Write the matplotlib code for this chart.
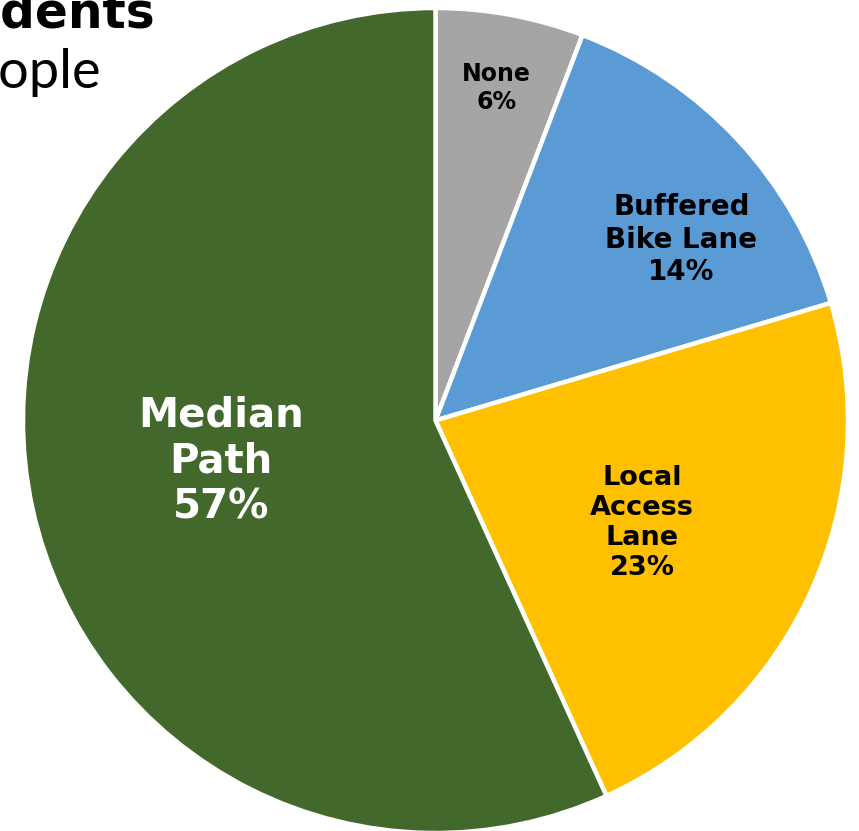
import numpy as np
import matplotlib
matplotlib.use("Agg")
import matplotlib.pyplot as plt

# preferred facility shares
labels = ["None", "Buffered\nBike Lane", "Local\nAccess\nLane", "Median\nPath"]
shares = [5.8, 14.6, 22.8, 56.8]
pct_text = ["6%", "14%", "23%", "57%"]
colors = ["#A5A5A5", "#5B9BD5", "#FFC000", "#43682B"]
text_colors = ["black", "black", "black", "white"]

# label placement (fraction of radius, angle nudge in degrees) and font size
label_dist = [0.82, 0.74, 0.56, 0.53]
label_nudge = [0, -6.5, -2, -1.5]
label_size = [17, 20, 19.5, 29]

W, H = 859, 831
cx, cy, r = 435.5, 420.5, 412.5

fig = plt.figure(figsize=(W / 100, H / 100), dpi=100)
ax = fig.add_axes([(cx - r) / W, (H - cy - r) / H, 2 * r / W, 2 * r / H])

wedges, _ = ax.pie(shares, colors=colors, startangle=90, counterclock=False,
                   radius=1.0,
                   wedgeprops=dict(edgecolor="white", linewidth=3.2))
ax.set_xlim(-1, 1)
ax.set_ylim(-1, 1)
ax.set_aspect("auto")
ax.axis("off")

for w, lab, pct, d, nd, fs, tc in zip(wedges, labels, pct_text, label_dist,
                                      label_nudge, label_size, text_colors):
    ang = np.deg2rad((w.theta1 + w.theta2) / 2 + nd)
    ax.text(d * np.cos(ang), d * np.sin(ang), f"{lab}\n{pct}",
            ha="center", va="center", fontsize=fs, fontweight="bold",
            color=tc, family="DejaVu Sans", linespacing=1.2)

# title, cut off by the left edge in the reference
fig.text(155 / W, 1 - 27 / H, "Residents", ha="right", va="baseline",
         fontsize=35, fontweight="bold", family="DejaVu Sans")
fig.text(101 / W, 1 - 88 / H, "People", ha="right", va="baseline",
         fontsize=39, fontweight="normal", family=["Lato", "DejaVu Sans"])

fig.savefig("out.png", dpi=100)
